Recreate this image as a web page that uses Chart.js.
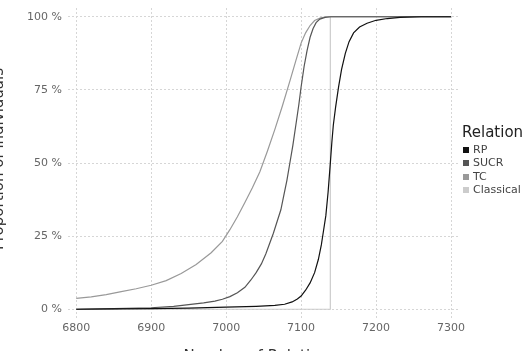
<!DOCTYPE html>
<html>
<head>
<meta charset="utf-8">
<script src="https://cdn.jsdelivr.net/npm/chart.js@4"></script>
<style>
  body { margin: 0; background: #fff; }
  #wrap { position: relative; width: 527px; height: 351px; overflow: hidden; font-family: "DejaVu Sans", sans-serif; }
  .title { position: absolute; width: 300px; height: 20px; line-height: 20px; font-size: 15px; color: #333; text-align: center; white-space: nowrap; }
  #y-title { left: -152px; top: 149px; transform: rotate(-90deg); }
  #x-title { left: 110px; top: 346px; }
  #legend-title { left: 462px; top: 122px; text-align: left; width: 80px; color: #222; }
  .leg-item { position: absolute; left: 463px; height: 14px; line-height: 14px; font-size: 11px; color: #444; white-space: nowrap; }
  .leg-box { position: absolute; left: 0; top: 4px; width: 6px; height: 6px; }
  .leg-label { position: absolute; left: 10px; top: 0; }
</style>
</head>
<body>
<div id="wrap">
  <canvas id="chart" width="527" height="351"></canvas>
  <div class="title" id="y-title">Proportion of individuals</div>
  <div class="title" id="x-title">Number of Relations</div>
  <div class="title" id="legend-title">Relation</div>
  <div id="legend"></div>
</div>
<script>
// ── Data ──────────────────────────────────────────────────────
const seriesNames  = ['RP', 'SUCR', 'TC', 'Classical'];
const seriesColors = ['#111111', '#555555', '#999999', '#cccccc'];

const xTicks = [6800, 6900, 7000, 7100, 7200, 7300];
const yTicks = [0, 25, 50, 75, 100];

// RP
const rpX = [6800, 6850, 6900, 6950, 7000, 7040, 7065, 7078, 7088, 7095, 7100, 7106, 7112, 7118, 7123, 7127, 7130, 7133, 7136, 7139, 7141, 7143, 7146, 7150, 7154, 7159, 7164, 7170, 7178, 7188, 7200, 7215, 7232, 7260, 7300];
const rpY = [0, 0.1, 0.2, 0.4, 0.7, 1.0, 1.3, 1.7, 2.5, 3.5, 4.5, 6.5, 9, 12.5, 17, 22, 27, 32, 40, 50, 57, 63, 69, 76, 82, 87.5, 91.5, 94.5, 96.5, 97.8, 98.8, 99.4, 99.8, 100, 100];

// SUCR
const sucrX = [6800, 6850, 6900, 6930, 6950, 6970, 6985, 6995, 7005, 7015, 7025, 7033, 7040, 7047, 7053, 7058, 7063, 7068, 7073, 7077, 7081, 7085, 7089, 7093, 7097, 7100, 7104, 7108, 7112, 7116, 7120, 7125, 7132, 7140, 7300];
const sucrY = [0, 0.2, 0.5, 1, 1.6, 2.2, 2.8, 3.4, 4.3, 5.6, 7.5, 10, 12.5, 15.5, 19, 22.5, 26, 30, 34, 39, 44, 50, 56, 63, 70, 76, 83, 88.5, 93, 96, 98, 99.2, 99.8, 100, 100];

// TC
const tcX = [6800, 6820, 6840, 6860, 6880, 6900, 6920, 6940, 6960, 6980, 6995, 7005, 7015, 7025, 7035, 7045, 7055, 7065, 7075, 7085, 7093, 7100, 7106, 7112, 7118, 7126, 7134, 7300];
const tcY = [3.7, 4.2, 5.0, 6.0, 7.0, 8.2, 9.8, 12.2, 15.3, 19.3, 23.2, 27.2, 31.6, 36.5, 41.5, 47, 54, 61.5, 69.5, 78, 85, 91, 94.5, 97, 98.7, 99.6, 100, 100];

// Classical
const classicalX = [6800, 7139, 7139, 7300];
const classicalY = [0, 0, 100, 100];

const allX = [rpX, sucrX, tcX, classicalX];
const allY = [rpY, sucrY, tcY, classicalY];

// ── Legend ────────────────────────────────────────────────────
const legendEl = document.getElementById('legend');
legendEl.innerHTML = seriesNames.map(function (name, i) {
  const top = 142.5 + i * 13.6;
  return `
    <div class="leg-item" style="top:${top}px">
      <div class="leg-box" style="background:${seriesColors[i]}"></div>
      <span class="leg-label">${name}</span>
    </div>`;
}).join('');

// ── Chart ─────────────────────────────────────────────────────
const tickFont = { family: 'DejaVu Sans', size: 11 };

const datasets = seriesNames.map(function (name, i) {
  return {
    label: name,
    data: allX[i].map(function (x, j) { return { x: x, y: allY[i][j] }; }),
    borderColor: seriesColors[i],
    borderWidth: 1.2,
    pointRadius: 0,
    tension: 0,
    fill: false
  };
});

new Chart(document.getElementById('chart'), {
  type: 'line',
  data: { datasets: datasets },
  options: {
    responsive: false,
    animation: false,
    layout: { padding: { top: 8, right: 67, left: 0, bottom: 0 } },
    plugins: { legend: { display: false }, tooltip: { enabled: false } },
    scales: {
      x: {
        type: 'linear',
        min: 6789,
        max: 7312,
        afterBuildTicks: function (scale) {
          scale.ticks = xTicks.map(function (v) { return { value: v }; });
        },
        afterFit: function (scale) {
          scale.height = 33;
          scale.paddingLeft = 0;
          scale.paddingRight = 0;
        },
        ticks: {
          font: tickFont,
          color: '#666',
          padding: 4,
          maxRotation: 0,
          callback: function (v) { return String(v); }
        },
        grid: { color: '#d6d6d6', lineWidth: 1, drawTicks: false },
        border: { display: false, dash: [2, 2] }
      },
      y: {
        type: 'linear',
        min: -3,
        max: 103,
        afterBuildTicks: function (scale) {
          scale.ticks = yTicks.map(function (v) { return { value: v }; });
        },
        afterFit: function (scale) {
          scale.width = 68;
          scale.paddingTop = 0;
          scale.paddingBottom = 0;
        },
        ticks: {
          font: tickFont,
          color: '#666',
          padding: 6,
          callback: function (v) { return v + ' %'; }
        },
        grid: { color: '#d6d6d6', lineWidth: 1, drawTicks: false },
        border: { display: false, dash: [2, 2] }
      }
    }
  }
});
</script>
</body>
</html>
